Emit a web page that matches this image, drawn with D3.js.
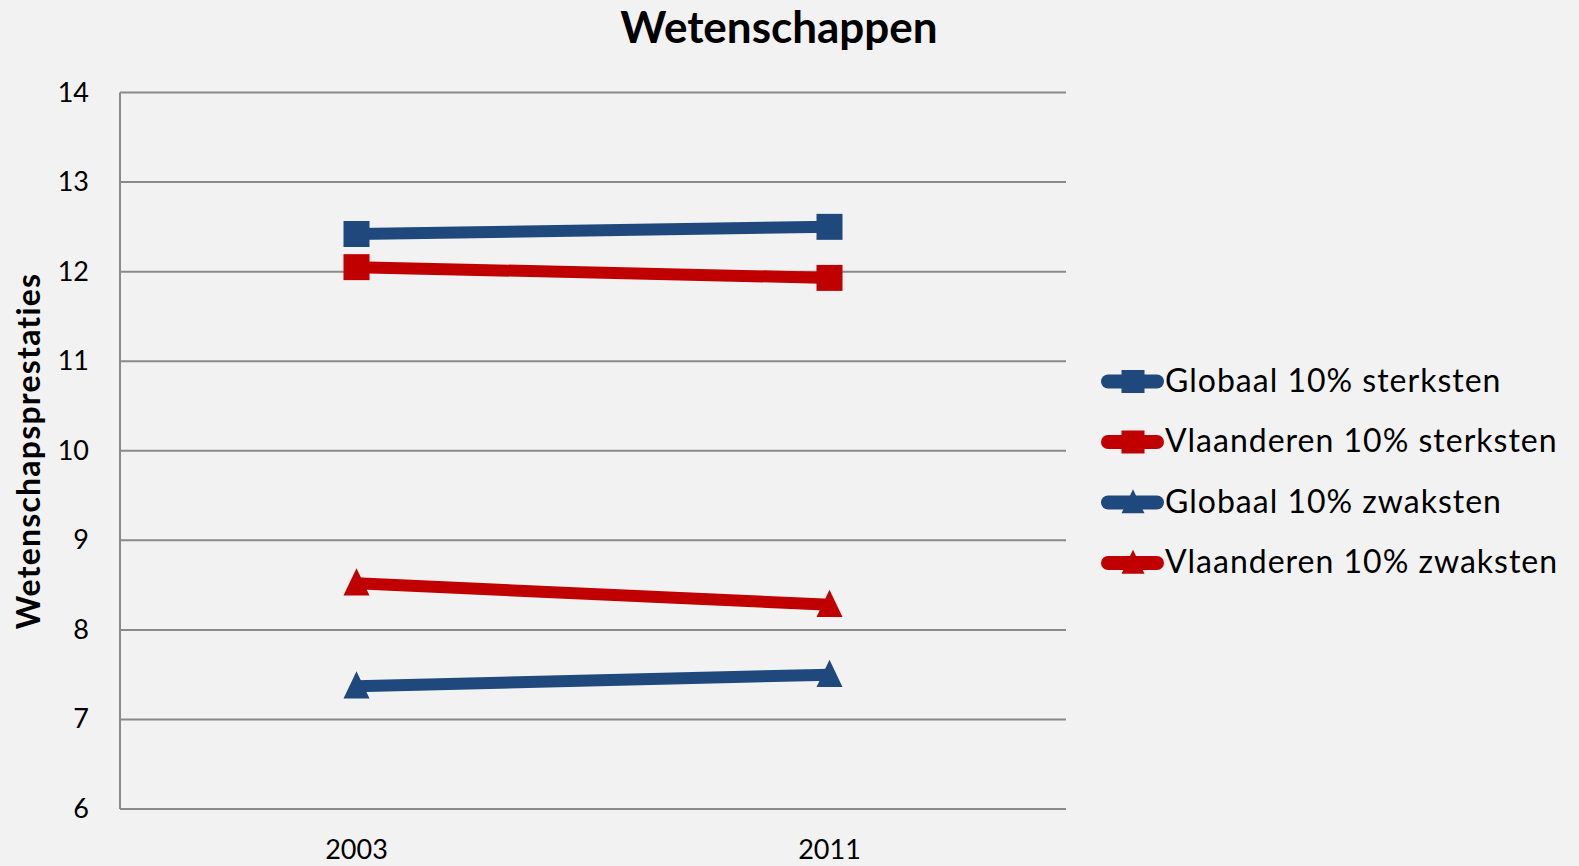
<!DOCTYPE html>
<html>
<head>
<meta charset="utf-8">
<script src="https://cdn.jsdelivr.net/npm/d3@7"></script>
<style>
    html, body { margin: 0; padding: 0; background: #f2f2f2; }
    svg { display: block; font-family: Lato, 'Open Sans', sans-serif; }
</style>
</head>
<body>
<svg id="chart" width="1579" height="866"></svg>
<script>
const years = ['2003', '2011'];
const yTicks = [6, 7, 8, 9, 10, 11, 12, 13, 14];

const seriesNames = ['Globaal 10% sterksten', 'Vlaanderen 10% sterksten', 'Globaal 10% zwaksten', 'Vlaanderen 10% zwaksten'];
const globaalSterk = [12.42, 12.50];
const vlaanderenSterk = [12.05, 11.93];
const globaalZwak = [7.37, 7.50];
const vlaanderenZwak = [8.52, 8.28];

const seriesColors = ['#1f497d', '#c00000', '#1f497d', '#c00000'];
const seriesShapes = ['square', 'square', 'triangle', 'triangle'];

const series = [globaalSterk, vlaanderenSterk, globaalZwak, vlaanderenZwak].map((values, i) => ({
    name: seriesNames[i],
    color: seriesColors[i],
    shape: seriesShapes[i],
    values: values.map((v, j) => ({year: years[j], value: v}))
}));

const svg = d3.select('#chart');
const W = 1579, H = 866;
const plot = {left: 120, right: 1066, top: 92.5, bottom: 809};

svg.append('rect')
    .attr('width', W)
    .attr('height', H)
    .attr('fill', '#f2f2f2');

const x = d3.scaleBand().domain(years).range([plot.left, plot.right]);
const y = d3.scaleLinear().domain([6, 14]).range([plot.bottom, plot.top]);
const cx = (d) => x(d) + x.bandwidth() / 2;

// gridlines
svg.append('g')
    .attr('class', 'grid')
    .selectAll('line')
    .data(yTicks)
    .enter().append('line')
    .attr('x1', plot.left)
    .attr('x2', plot.right)
    .attr('y1', (d) => y(d))
    .attr('y2', (d) => y(d))
    .attr('stroke', '#8a8a8a')
    .attr('stroke-width', 2);

// y axis line
svg.append('line')
    .attr('x1', plot.left)
    .attr('x2', plot.left)
    .attr('y1', plot.top)
    .attr('y2', plot.bottom)
    .attr('stroke', '#8a8a8a')
    .attr('stroke-width', 2);

// tick labels
svg.append('g')
    .selectAll('text')
    .data(yTicks)
    .enter().append('text')
    .text((d) => d)
    .attr('x', 89)
    .attr('y', (d) => y(d) + 9)
    .style('text-anchor', 'end')
    .style('font-size', '27px')
    .style('fill', '#000');

svg.append('g')
    .selectAll('text')
    .data(years)
    .enter().append('text')
    .text((d) => d)
    .attr('x', (d) => cx(d))
    .attr('y', 859)
    .style('text-anchor', 'middle')
    .style('font-size', '27px')
    .style('fill', '#000');

// title and axis title
svg.append('text')
    .text('Wetenschappen')
    .attr('x', 779)
    .attr('y', 43)
    .style('text-anchor', 'middle')
    .style('font-size', '44px')
    .style('font-weight', 'bold');

svg.append('text')
    .text('Wetenschapsprestaties')
    .attr('transform', 'translate(40, 451) rotate(-90)')
    .style('text-anchor', 'middle')
    .style('font-size', '32px')
    .style('letter-spacing', '1.2px')
    .style('font-weight', 'bold');

const markerPath = (shape, s) => {
    if (shape === 'square') {
        return d3.symbol().type(d3.symbolSquare).size(s * s)();
    }
    const h = s * 1.05;
    return `M0,${-h * 0.55}L${s / 2},${h * 0.45}L${-s / 2},${h * 0.45}Z`;
};

const line = d3.line()
    .x((d) => cx(d.year))
    .y((d) => y(d.value));

const seriesG = svg.append('g')
    .selectAll('g')
    .data(series)
    .enter().append('g')
    .attr('class', 'series');

seriesG.append('path')
    .attr('d', (d) => line(d.values))
    .attr('fill', 'none')
    .attr('stroke', (d) => d.color)
    .attr('stroke-width', 12);

seriesG.each(function (s) {
    d3.select(this).selectAll('path.marker')
        .data(s.values)
        .enter().append('path')
        .attr('class', 'marker')
        .attr('d', markerPath(s.shape, 26))
        .attr('transform', (d) => `translate(${cx(d.year)}, ${y(d.value)})`)
        .attr('fill', s.color);
});

// legend
const legend = svg.append('g')
    .attr('class', 'legend')
    .selectAll('g')
    .data(series)
    .enter().append('g')
    .attr('transform', (d, i) => `translate(0, ${381.5 + i * 60.5})`);

legend.append('line')
    .attr('x1', 1108)
    .attr('x2', 1157)
    .attr('stroke', (d) => d.color)
    .attr('stroke-width', 14)
    .attr('stroke-linecap', 'round');

legend.append('path')
    .attr('d', (d) => markerPath(d.shape, 23))
    .attr('transform', 'translate(1133, 0)')
    .attr('fill', (d) => d.color);

legend.append('text')
    .text((d) => d.name)
    .attr('x', 1165)
    .attr('y', 10)
    .style('font-size', '32px')
    .style('letter-spacing', '1px')
    .style('fill', '#000');
</script>
</body>
</html>
